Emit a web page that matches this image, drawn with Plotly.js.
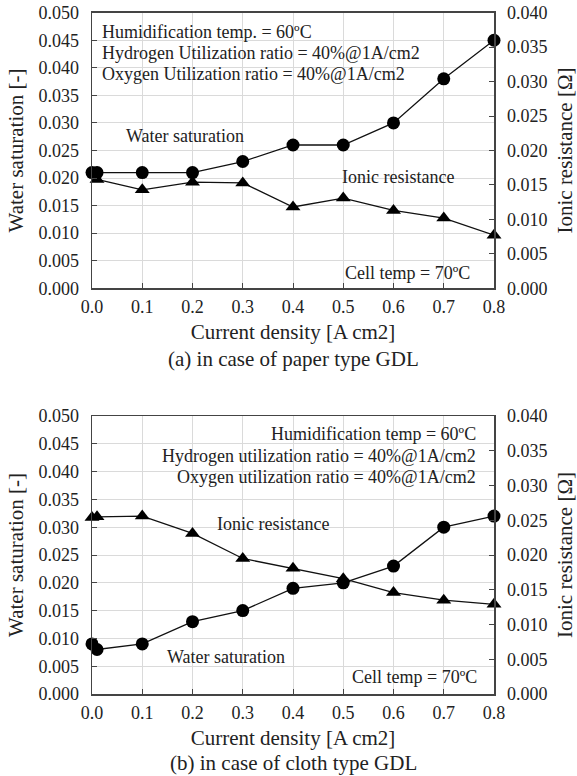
<!DOCTYPE html>
<html>
<head>
<meta charset="utf-8">
<script src="https://cdn.plot.ly/plotly-3.0.1.min.js"></script>
<style>html,body{margin:0;padding:0;background:#fff;}#chart{width:577px;height:776px;}</style>
</head>
<body>
<div id="chart"></div>
<script>
// ---- Data ----
const xWS = [0, 0.01, 0.1, 0.2, 0.3, 0.4, 0.5, 0.6, 0.7, 0.8];
// (a) paper type GDL
const waterSatA = [0.021, 0.021, 0.021, 0.021, 0.023, 0.026, 0.026, 0.030, 0.038, 0.045];
const xIRA = [0.01, 0.1, 0.2, 0.3, 0.4, 0.5, 0.6, 0.7, 0.8];
const ionicResA = [0.0158, 0.0143, 0.0154, 0.0153, 0.0118, 0.0131, 0.0113, 0.0102, 0.0077];
// (b) cloth type GDL
const waterSatB = [0.009, 0.008, 0.009, 0.013, 0.015, 0.019, 0.020, 0.023, 0.030, 0.032];
const xIRB = [0, 0.01, 0.1, 0.2, 0.3, 0.4, 0.5, 0.6, 0.7, 0.8];
const ionicResB = [0.0254, 0.0255, 0.0256, 0.0231, 0.0195, 0.0181, 0.0166, 0.0146, 0.0135, 0.0129];

const xTicks = [0, 0.1, 0.2, 0.3, 0.4, 0.5, 0.6, 0.7, 0.8];
const leftTicks = [0, 0.005, 0.01, 0.015, 0.02, 0.025, 0.03, 0.035, 0.04, 0.045, 0.05];
const rightTicks = [0, 0.005, 0.01, 0.015, 0.02, 0.025, 0.03, 0.035, 0.04];

const W = 577, H = 776;
const FONT = "'Liberation Serif', 'Times New Roman', Times, 'DejaVu Serif', serif";
const TXT = '#222';
const px = v => v / W;
const py = v => 1 - v / H;

const line = {color: '#111', width: 1.3};
function ws(x, y, xa, ya) {
  return {x: x, y: y, xaxis: xa, yaxis: ya, type: 'scatter', mode: 'lines+markers',
    line: line, marker: {symbol: 'circle', size: 13, color: '#000'}, cliponaxis: false,
    name: 'Water saturation', showlegend: false};
}
function ir(x, y, xa, ya) {
  return {x: x, y: y, xaxis: xa, yaxis: ya, type: 'scatter', mode: 'lines+markers',
    line: line, marker: {symbol: 'triangle-up', size: 13, color: '#000'}, cliponaxis: false,
    name: 'Ionic resistance', showlegend: false};
}

const data = [
  ws(xWS, waterSatA, 'x', 'y'),
  ir(xIRA, ionicResA, 'x', 'y2'),
  ws(xWS, waterSatB, 'x2', 'y3'),
  ir(xIRB, ionicResB, 'x2', 'y4')
];

const xDom = [px(92), px(494)];
const topDom = [py(288.3), py(12.7)];
const botDom = [py(694), py(416)];
const AX = '#444';
const tickFont = {family: FONT, size: 18, color: TXT};
const titleFont = {family: FONT, size: 21, color: TXT};

function xax(anchor) {
  return {domain: xDom, anchor: anchor, range: [0, 0.8], tickvals: xTicks, tickformat: '.1f',
    ticks: 'inside', ticklen: 5, tickcolor: AX, showgrid: true, gridcolor: '#dadada', gridwidth: 1,
    showline: true, linecolor: AX, linewidth: 1.5, mirror: true, zeroline: false,
    tickfont: tickFont, ticklabelstandoff: 2,
    title: {text: 'Current density [A cm2]', font: titleFont, standoff: 8}};
}
function yl(dom, anchor) {
  return {domain: dom, anchor: anchor, range: [0, 0.05], tickvals: leftTicks, tickformat: '.3f',
    ticks: 'inside', ticklen: 5, tickcolor: AX, showgrid: true, gridcolor: '#dadada', gridwidth: 1,
    showline: true, linecolor: AX, linewidth: 1.5, zeroline: false, tickfont: tickFont,
    ticklabelstandoff: 8,
    title: {text: 'Water saturation [-]', font: titleFont, standoff: 9}};
}
function yr(dom, anchor, over) {
  return {domain: dom, anchor: anchor, overlaying: over, side: 'right', range: [0, 0.04],
    tickvals: rightTicks, tickformat: '.3f', ticks: 'inside', ticklen: 5, tickcolor: AX,
    showgrid: false, showline: true, linecolor: AX, linewidth: 1.5, zeroline: false,
    tickfont: tickFont, ticklabelstandoff: 8,
    title: {text: 'Ionic resistance [Ω]', font: titleFont, standoff: 12}};
}

const annFont = {family: FONT, size: 18, color: TXT};
function ann(text, x, y, xanchor) {
  return {text: text, xref: 'paper', yref: 'paper', x: px(x), y: py(y), xanchor: xanchor || 'left',
    yanchor: 'middle', showarrow: false, font: annFont};
}

const annotations = [
  ann('Humidification temp. = 60ºC', 100, 32),
  ann('Hydrogen Utilization ratio = 40%@1A/cm2', 100, 53),
  ann('Oxygen Utilization ratio = 40%@1A/cm2', 100, 74),
  ann('Water saturation', 184.5, 136, 'center'),
  ann('Ionic resistance', 397.7, 177, 'center'),
  ann('Cell temp = 70ºC', 343, 273),
  ann('Humidification temp = 60ºC', 478, 434, 'right'),
  ann('Hydrogen utilization ratio = 40%@1A/cm2', 478, 456, 'right'),
  ann('Oxygen utilization ratio = 40%@1A/cm2', 478, 477, 'right'),
  ann('Ionic resistance', 273, 524, 'center'),
  ann('Water saturation', 226, 657, 'center'),
  ann('Cell temp = 70ºC', 350, 677),
  {text: '(a) in case of paper type GDL', xref: 'paper', yref: 'paper', x: px(293), y: py(359),
    xanchor: 'center', yanchor: 'middle', showarrow: false, font: titleFont},
  {text: '(b) in case of cloth type GDL', xref: 'paper', yref: 'paper', x: px(293), y: py(763),
    xanchor: 'center', yanchor: 'middle', showarrow: false, font: titleFont}
];

const layout = {
  width: W, height: H, margin: {l: 0, r: 0, t: 0, b: 0},
  paper_bgcolor: '#fff', plot_bgcolor: '#fff',
  font: {family: FONT, color: TXT},
  showlegend: false,
  xaxis: xax('y'),
  yaxis: yl(topDom, 'x'),
  yaxis2: yr(topDom, 'x', 'y'),
  xaxis2: xax('y3'),
  yaxis3: yl(botDom, 'x2'),
  yaxis4: yr(botDom, 'x2', 'y3'),
  annotations: annotations
};

Plotly.newPlot('chart', data, layout, {displayModeBar: false, staticPlot: true});
</script>
</body>
</html>
